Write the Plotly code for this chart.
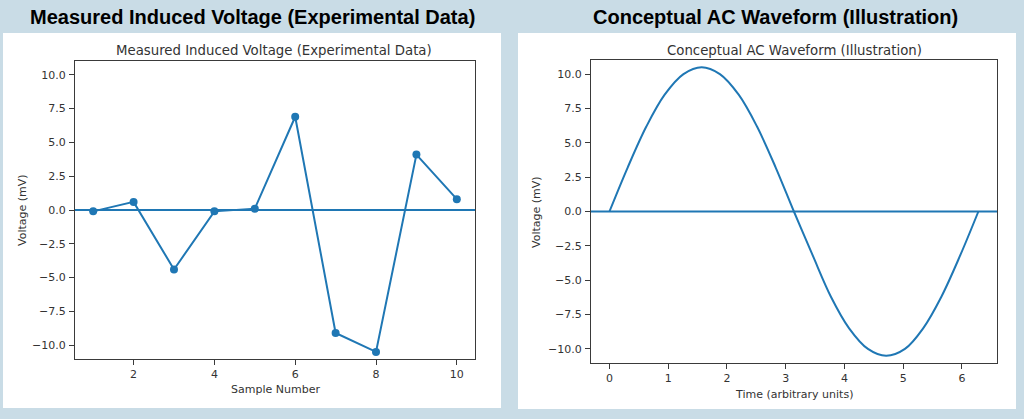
import plotly.graph_objects as go

# ---- data ----
sample_number = [1, 2, 3, 4, 5, 6, 7, 8, 9, 10]
measured_mv = [-0.1, 0.6, -4.4, -0.1, 0.1, 6.9, -9.1, -10.5, 4.1, 0.8]

wave_time = [0, 0.31, 0.63, 0.94, 1.26, 1.57, 1.88, 2.2, 2.51, 2.83, 3.14,
             3.46, 3.77, 4.08, 4.4, 4.71, 5.03, 5.34, 5.65, 5.97, 6.28]
wave_mv = [0, 3.2, 6.2, 8.5, 10.0, 10.5, 10.0, 8.5, 6.2, 3.2, 0,
           -3.2, -6.2, -8.5, -10.0, -10.5, -10.0, -8.5, -6.2, -3.2, 0]

y_ticks = [-10, -7.5, -5, -2.5, 0, 2.5, 5, 7.5, 10]
left_x_ticks = [2, 4, 6, 8, 10]
right_x_ticks = [0, 1, 2, 3, 4, 5, 6]

main_titles = ["Measured Induced Voltage (Experimental Data)",
               "Conceptual AC Waveform (Illustration)"]
x_titles = ["Sample Number", "Time (arbitrary units)"]
y_title = "Voltage (mV)"

# ---- styling ----
W, H = 1024, 419
BLUE = "#1f77b4"
SPINE = "#3a3a3a"
TXT = "#333333"
FONT = "DejaVu Sans"

def px(x):
    return x / W

def py(y):
    return 1 - y / H

fig = go.Figure()

fig.add_trace(go.Scatter(
    x=sample_number, y=measured_mv, mode="lines+markers",
    line=dict(color=BLUE, width=2), marker=dict(color=BLUE, size=8),
    xaxis="x", yaxis="y", showlegend=False, hoverinfo="skip"))

fig.add_trace(go.Scatter(
    x=wave_time, y=wave_mv, mode="lines",
    line=dict(color=BLUE, width=2, shape="spline", smoothing=1.0),
    xaxis="x2", yaxis="y2", showlegend=False, hoverinfo="skip"))

axis_common = dict(
    showgrid=False, zeroline=False, showline=True, mirror=True,
    linecolor=SPINE, linewidth=1, ticks="outside", ticklen=5,
    tickcolor=SPINE, tickwidth=1,
    tickfont=dict(family=FONT, size=11, color=TXT),
)

ydom_l = [py(359), py(61)]
ydom_r = [py(363), py(60)]

fig.update_layout(
    width=W, height=H,
    margin=dict(l=0, r=0, t=0, b=0),
    paper_bgcolor="#c9dce6",
    plot_bgcolor="white",
    xaxis=dict(domain=[px(75), px(475)], anchor="y", range=[0.55, 10.45],
               tickvals=left_x_ticks, ticklabelstandoff=0, **axis_common),
    yaxis=dict(domain=ydom_l, anchor="x", range=[-11.025, 11.025],
               tickvals=y_ticks, tickformat=".1f", ticklabelstandoff=1, **axis_common),
    xaxis2=dict(domain=[px(591), px(997)], anchor="y2", range=[-0.314, 6.597],
                tickvals=right_x_ticks, ticklabelstandoff=0, **axis_common),
    yaxis2=dict(domain=ydom_r, anchor="x2", range=[-11.025, 11.025],
                tickvals=y_ticks, tickformat=".1f", ticklabelstandoff=1, **axis_common),
)

shapes = [
    # white panels
    dict(type="rect", xref="paper", yref="paper", x0=px(3), x1=px(501),
         y0=py(408), y1=py(33), fillcolor="white", line=dict(width=0), layer="below"),
    dict(type="rect", xref="paper", yref="paper", x0=px(518), x1=px(1016),
         y0=py(409), y1=py(33), fillcolor="white", line=dict(width=0), layer="below"),
    # axhline at zero
    dict(type="line", xref="x domain", yref="y", x0=0, x1=1, y0=0, y1=0,
         line=dict(color=BLUE, width=2)),
    dict(type="line", xref="x2 domain", yref="y2", x0=0, x1=1, y0=0, y1=0,
         line=dict(color=BLUE, width=2)),
]
fig.update_layout(shapes=shapes)

ann = []
# bold outer titles
ann.append(dict(text=f"<b>{main_titles[0]}</b>", x=px(252), y=py(17), xref="paper", yref="paper",
                showarrow=False, xanchor="center", yanchor="middle",
                font=dict(family="Liberation Sans", size=20, color="black")))
ann.append(dict(text=f"<b>{main_titles[1]}</b>", x=px(775), y=py(17), xref="paper", yref="paper",
                showarrow=False, xanchor="center", yanchor="middle",
                font=dict(family="Liberation Sans", size=20, color="black")))
# inner titles
ann.append(dict(text=main_titles[0], x=px(274), y=py(50), xref="paper", yref="paper",
                showarrow=False, xanchor="center", yanchor="middle",
                font=dict(family=FONT, size=13.3, color=TXT)))
ann.append(dict(text=main_titles[1], x=px(794), y=py(50), xref="paper", yref="paper",
                showarrow=False, xanchor="center", yanchor="middle",
                font=dict(family=FONT, size=13.3, color=TXT)))
# x axis titles
ann.append(dict(text=x_titles[0], x=px(275), y=py(389), xref="paper", yref="paper",
                showarrow=False, xanchor="center", yanchor="middle",
                font=dict(family=FONT, size=11, color=TXT)))
ann.append(dict(text=x_titles[1], x=px(794), y=py(394), xref="paper", yref="paper",
                showarrow=False, xanchor="center", yanchor="middle",
                font=dict(family=FONT, size=11, color=TXT)))
# y axis titles
ann.append(dict(text=y_title, x=px(22), y=py(210), xref="paper", yref="paper",
                showarrow=False, xanchor="center", yanchor="middle", textangle=-90,
                font=dict(family=FONT, size=11, color=TXT)))
ann.append(dict(text=y_title, x=px(537), y=py(212), xref="paper", yref="paper",
                showarrow=False, xanchor="center", yanchor="middle", textangle=-90,
                font=dict(family=FONT, size=11, color=TXT)))
fig.update_layout(annotations=ann)

fig.write_html("out.html", config={"displayModeBar": False},
               post_script="document.body.style.margin='0';")
